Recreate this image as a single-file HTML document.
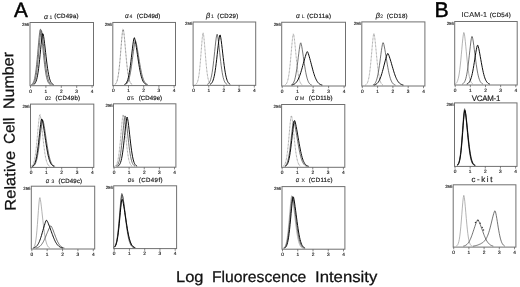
<!DOCTYPE html>
<html><head><meta charset="utf-8"><style>
html,body{margin:0;padding:0;background:#fff;width:520px;height:287px;overflow:hidden}
svg{display:block;will-change:transform}
text{font-family:"Liberation Sans",sans-serif;fill:#222;text-rendering:geometricPrecision}
.tk{font-size:4.8px;fill:#222;stroke:#222;stroke-width:0.15px}
.tk2{font-size:4.4px;fill:#222;stroke:#222;stroke-width:0.15px}
.tt{font-size:6.1px;fill:#222;stroke:#222;stroke-width:0.2px}
.tt2{font-size:7.2px;fill:#222;stroke:#222;stroke-width:0.12px}
.vc{font-size:7.9px;stroke:#222;stroke-width:0.18px}
.gr{font-family:"Liberation Sans",sans-serif;font-style:italic;font-size:6.8px;fill:#222;stroke:#222;stroke-width:0.15px}
.grb{font-size:7.4px}
.sb{font-size:5px;fill:#222;stroke:#222;stroke-width:0.08px}
.big{font-size:20.7px;fill:#000;stroke:#000;stroke-width:0.45px}
.ax{font-size:15.5px;fill:#111;stroke:#111;stroke-width:0.25px}
</style></head><body>
<svg width="520" height="287" viewBox="0 0 520 287">
<text x="13.9" y="17.0" class="big">A</text>
<text x="434.4" y="17.2" class="big" style="font-size:21.3px">B</text>
<g transform="translate(15.75,211.6) rotate(-90.9)">
<text x="0.9" y="0" class="ax" textLength="59.8" lengthAdjust="spacingAndGlyphs">Relative</text>
<text x="67.9" y="0" class="ax" textLength="26" lengthAdjust="spacingAndGlyphs">Cell</text>
<text x="102.6" y="0" class="ax" textLength="57" lengthAdjust="spacingAndGlyphs">Number</text>
</g>
<text x="176" y="281.9" class="ax" textLength="27.5" lengthAdjust="spacingAndGlyphs">Log</text>
<text x="212" y="281.9" class="ax" textLength="94.3" lengthAdjust="spacingAndGlyphs">Fluorescence</text>
<text x="315" y="281.9" class="ax" textLength="62.3" lengthAdjust="spacingAndGlyphs">Intensity</text>
<rect x="30.0" y="22.5" width="63.50" height="63.20" fill="none" stroke="#707070" stroke-width="1"/>
<line x1="30.50" y1="85.7" x2="30.50" y2="87.90" stroke="#555" stroke-width="0.7"/>
<text x="30.50" y="92.50" class="tk" text-anchor="middle">0</text>
<line x1="45.90" y1="85.7" x2="45.90" y2="87.90" stroke="#555" stroke-width="0.7"/>
<text x="45.90" y="92.50" class="tk" text-anchor="middle">1</text>
<line x1="61.30" y1="85.7" x2="61.30" y2="87.90" stroke="#555" stroke-width="0.7"/>
<text x="61.30" y="92.50" class="tk" text-anchor="middle">2</text>
<line x1="76.70" y1="85.7" x2="76.70" y2="87.90" stroke="#555" stroke-width="0.7"/>
<text x="76.70" y="92.50" class="tk" text-anchor="middle">3</text>
<line x1="92.10" y1="85.7" x2="92.10" y2="87.90" stroke="#555" stroke-width="0.7"/>
<text x="92.10" y="92.50" class="tk" text-anchor="middle">4</text>
<text x="29.20" y="25.90" class="tk2" text-anchor="end" textLength="7.2" lengthAdjust="spacingAndGlyphs">256</text>
<path d="M31.1,84.7 31.6,84.5 32.1,84.1 32.6,83.6 33.1,82.9 33.6,81.8 34.1,80.4 34.6,78.5 35.1,76.0 35.6,72.9 36.1,69.2 36.6,64.8 37.1,59.8 37.6,54.4 38.1,48.6 38.6,42.9 39.1,37.5 39.6,32.9 40.1,29.6 40.6,29.2 41.1,31.7 41.6,35.6 42.1,40.2 42.6,45.2 43.1,50.3 43.6,55.4 44.1,60.2 44.6,64.7 45.1,68.6 45.6,72.1 46.1,75.1 46.6,77.5 47.1,79.4 47.6,81.0 48.1,82.1 48.6,83.0 49.1,83.7 49.6,84.1 50.1,84.5 50.6,84.7" fill="none" stroke="#444" stroke-width="0.75" stroke-linejoin="round"/>
<path d="M32.1,84.7 32.6,84.5 33.1,84.1 33.6,83.5 34.1,82.7 34.6,81.7 35.1,80.2 35.6,78.2 36.1,75.7 36.6,72.5 37.1,68.7 37.6,64.3 38.1,59.3 38.6,53.9 39.1,48.3 39.6,42.7 40.1,37.6 40.6,33.3 41.1,30.5 41.6,30.8 42.1,33.5 42.6,37.2 43.1,41.7 43.6,46.4 44.1,51.2 44.6,56.0 45.1,60.6 45.6,64.8 46.1,68.6 46.6,72.0 47.1,74.8 47.6,77.2 48.1,79.1 48.6,80.7 49.1,81.9 49.6,82.8 50.1,83.5 50.6,84.0 51.1,84.3 51.6,84.6" fill="none" stroke="#444" stroke-width="0.75" stroke-linejoin="round"/>
<path d="M33.6,84.6 34.1,84.3 34.6,83.9 35.1,83.2 35.6,82.4 36.1,81.2 36.6,79.7 37.1,77.7 37.6,75.2 38.1,72.1 38.6,68.5 39.1,64.3 39.6,59.7 40.1,54.8 40.6,49.7 41.1,44.6 41.6,40.0 42.1,36.1 42.6,33.6 43.1,33.9 43.6,36.3 44.1,39.7 44.6,43.7 45.1,48.0 45.6,52.4 46.1,56.8 46.6,61.0 47.1,65.0 47.6,68.5 48.1,71.7 48.6,74.5 49.1,76.8 49.6,78.8 50.1,80.3 50.6,81.6 51.1,82.5 51.6,83.2 52.1,83.8 52.6,84.2 53.1,84.5 53.6,84.7" fill="none" stroke="#000" stroke-width="0.95" stroke-linejoin="round"/>
<rect x="112.8" y="22.45" width="62.70" height="63.15" fill="none" stroke="#707070" stroke-width="1"/>
<line x1="113.30" y1="85.6" x2="113.30" y2="87.80" stroke="#555" stroke-width="0.7"/>
<text x="113.30" y="92.40" class="tk" text-anchor="middle">0</text>
<line x1="128.50" y1="85.6" x2="128.50" y2="87.80" stroke="#555" stroke-width="0.7"/>
<text x="128.50" y="92.40" class="tk" text-anchor="middle">1</text>
<line x1="143.70" y1="85.6" x2="143.70" y2="87.80" stroke="#555" stroke-width="0.7"/>
<text x="143.70" y="92.40" class="tk" text-anchor="middle">2</text>
<line x1="158.90" y1="85.6" x2="158.90" y2="87.80" stroke="#555" stroke-width="0.7"/>
<text x="158.90" y="92.40" class="tk" text-anchor="middle">3</text>
<line x1="174.10" y1="85.6" x2="174.10" y2="87.80" stroke="#555" stroke-width="0.7"/>
<text x="174.10" y="92.40" class="tk" text-anchor="middle">4</text>
<text x="112.00" y="25.85" class="tk2" text-anchor="end" textLength="7.2" lengthAdjust="spacingAndGlyphs">256</text>
<path d="M114.9,84.4 115.4,84.1 115.9,83.5 116.4,82.7 116.9,81.5 117.4,79.8 117.9,77.5 118.4,74.6 118.9,70.9 119.4,66.5 119.9,61.3 120.4,55.5 120.9,49.3 121.4,43.0 121.9,37.2 122.4,32.3 122.9,29.2 123.4,29.6 123.9,32.8 124.4,37.4 124.9,42.8 125.4,48.6 125.9,54.3 126.4,59.7 126.9,64.7 127.4,69.1 127.9,72.8 128.4,75.9 128.9,78.4 129.4,80.3 129.9,81.7 130.4,82.8 130.9,83.5 131.4,84.0 131.9,84.4 132.4,84.6" fill="none" stroke="#444" stroke-width="0.75" stroke-dasharray="0.8 0.6" stroke-linejoin="round"/>
<path d="M125.4,84.5 125.9,84.2 126.4,83.9 126.9,83.4 127.4,82.7 127.9,81.9 128.4,80.7 128.9,79.3 129.4,77.5 129.9,75.4 130.4,72.9 130.9,70.0 131.4,66.7 131.9,63.1 132.4,59.3 132.9,55.4 133.4,51.6 133.9,47.9 134.4,44.6 134.9,42.1 135.4,40.8 135.9,41.8 136.4,43.9 136.9,46.4 137.4,49.2 137.9,52.2 138.4,55.3 138.9,58.4 139.4,61.5 139.9,64.4 140.4,67.3 140.9,69.9 141.4,72.3 141.9,74.5 142.4,76.4 142.9,78.0 143.4,79.4 143.9,80.6 144.4,81.5 144.9,82.3 145.4,83.0 145.9,83.5 146.4,83.9 146.9,84.2 147.4,84.4 147.9,84.6" fill="none" stroke="#444" stroke-width="0.75" stroke-linejoin="round"/>
<path d="M124.4,84.5 124.9,84.3 125.4,84.0 125.9,83.5 126.4,82.8 126.9,81.9 127.4,80.8 127.9,79.3 128.4,77.4 128.9,75.1 129.4,72.4 129.9,69.2 130.4,65.6 130.9,61.6 131.4,57.4 131.9,53.1 132.4,48.8 132.9,44.8 133.4,41.2 133.9,38.6 134.4,37.7 134.9,39.2 135.4,41.5 135.9,44.4 136.4,47.6 136.9,50.9 137.4,54.4 137.9,57.8 138.4,61.1 138.9,64.3 139.4,67.4 139.9,70.1 140.4,72.6 140.9,74.9 141.4,76.8 141.9,78.4 142.4,79.8 142.9,81.0 143.4,81.9 143.9,82.6 144.4,83.2 144.9,83.7 145.4,84.0 145.9,84.3 146.4,84.5" fill="none" stroke="#000" stroke-width="0.95" stroke-linejoin="round"/>
<rect x="193.1" y="22.0" width="62.60" height="63.35" fill="none" stroke="#707070" stroke-width="1"/>
<line x1="193.60" y1="85.35" x2="193.60" y2="87.55" stroke="#555" stroke-width="0.7"/>
<text x="193.60" y="92.15" class="tk" text-anchor="middle">0</text>
<line x1="208.77" y1="85.35" x2="208.77" y2="87.55" stroke="#555" stroke-width="0.7"/>
<text x="208.77" y="92.15" class="tk" text-anchor="middle">1</text>
<line x1="223.95" y1="85.35" x2="223.95" y2="87.55" stroke="#555" stroke-width="0.7"/>
<text x="223.95" y="92.15" class="tk" text-anchor="middle">2</text>
<line x1="239.12" y1="85.35" x2="239.12" y2="87.55" stroke="#555" stroke-width="0.7"/>
<text x="239.12" y="92.15" class="tk" text-anchor="middle">3</text>
<line x1="254.30" y1="85.35" x2="254.30" y2="87.55" stroke="#555" stroke-width="0.7"/>
<text x="254.30" y="92.15" class="tk" text-anchor="middle">4</text>
<text x="192.30" y="25.40" class="tk2" text-anchor="end" textLength="7.2" lengthAdjust="spacingAndGlyphs">256</text>
<path d="M195.7,84.3 196.2,84.0 196.7,83.4 197.2,82.6 197.7,81.3 198.2,79.4 198.7,76.8 199.2,73.4 199.7,69.0 200.2,63.6 200.7,57.5 201.2,51.0 201.7,44.5 202.2,38.6 202.7,34.3 203.2,32.9 203.7,35.6 204.2,40.4 204.7,46.2 205.2,52.5 205.7,58.7 206.2,64.4 206.7,69.4 207.2,73.6 207.7,76.8 208.2,79.3 208.7,81.2 209.2,82.5 209.7,83.3 210.2,83.9 210.7,84.3" fill="none" stroke="#777" stroke-width="0.75" stroke-dasharray="0.8 0.6" stroke-linejoin="round"/>
<path d="M207.2,84.4 207.7,84.2 208.2,83.9 208.7,83.4 209.2,82.8 209.7,82.0 210.2,80.9 210.7,79.4 211.2,77.5 211.7,75.1 212.2,72.3 212.7,68.9 213.2,65.0 213.7,60.7 214.2,56.1 214.7,51.3 215.2,46.6 215.7,42.0 216.2,38.1 216.7,35.1 217.2,34.2 217.7,36.1 218.2,39.4 218.7,43.4 219.2,47.9 219.7,52.5 220.2,57.1 220.7,61.5 221.2,65.6 221.7,69.2 222.2,72.5 222.7,75.2 223.2,77.5 223.7,79.3 224.2,80.8 224.7,81.9 225.2,82.7 225.7,83.4 226.2,83.8 226.7,84.1 227.2,84.3" fill="none" stroke="#444" stroke-width="0.75" stroke-linejoin="round"/>
<path d="M210.2,84.2 210.7,84.0 211.2,83.6 211.7,83.0 212.2,82.3 212.7,81.3 213.2,80.0 213.7,78.3 214.2,76.3 214.7,73.8 215.2,70.8 215.7,67.3 216.2,63.4 216.7,59.2 217.2,54.7 217.7,50.1 218.2,45.6 218.7,41.4 219.2,37.9 219.7,35.3 220.2,35.0 220.7,37.2 221.2,40.4 221.7,44.4 222.2,48.6 222.7,53.1 223.2,57.4 223.7,61.6 224.2,65.5 224.7,69.1 225.2,72.2 225.7,74.9 226.2,77.2 226.7,79.0 227.2,80.5 227.7,81.6 228.2,82.5 228.7,83.2 229.2,83.7 229.7,84.0 230.2,84.3" fill="none" stroke="#000" stroke-width="0.95" stroke-linejoin="round"/>
<rect x="281.7" y="22.25" width="63.80" height="63.75" fill="none" stroke="#707070" stroke-width="1"/>
<line x1="282.20" y1="86.0" x2="282.20" y2="88.20" stroke="#555" stroke-width="0.7"/>
<text x="282.20" y="92.80" class="tk" text-anchor="middle">0</text>
<line x1="297.68" y1="86.0" x2="297.68" y2="88.20" stroke="#555" stroke-width="0.7"/>
<text x="297.68" y="92.80" class="tk" text-anchor="middle">1</text>
<line x1="313.15" y1="86.0" x2="313.15" y2="88.20" stroke="#555" stroke-width="0.7"/>
<text x="313.15" y="92.80" class="tk" text-anchor="middle">2</text>
<line x1="328.62" y1="86.0" x2="328.62" y2="88.20" stroke="#555" stroke-width="0.7"/>
<text x="328.62" y="92.80" class="tk" text-anchor="middle">3</text>
<line x1="344.10" y1="86.0" x2="344.10" y2="88.20" stroke="#555" stroke-width="0.7"/>
<text x="344.10" y="92.80" class="tk" text-anchor="middle">4</text>
<text x="280.90" y="25.65" class="tk2" text-anchor="end" textLength="7.2" lengthAdjust="spacingAndGlyphs">256</text>
<path d="M285.3,84.8 285.8,84.4 286.3,83.9 286.8,83.1 287.3,81.9 287.8,80.3 288.3,78.1 288.8,75.2 289.3,71.7 289.8,67.5 290.3,62.6 290.8,57.1 291.3,51.4 291.8,45.7 292.3,40.5 292.8,36.3 293.3,33.9 293.8,34.9 294.3,38.2 294.8,42.6 295.3,47.7 295.8,53.0 296.3,58.2 296.8,63.1 297.3,67.6 297.8,71.5 298.3,74.8 298.8,77.6 299.3,79.7 299.8,81.4 300.3,82.6 300.8,83.5 301.3,84.2 301.8,84.6 302.3,84.9" fill="none" stroke="#777" stroke-width="0.75" stroke-dasharray="0.8 0.6" stroke-linejoin="round"/>
<path d="M291.3,84.9 291.8,84.7 292.3,84.3 292.8,83.8 293.3,83.1 293.8,82.1 294.3,80.9 294.8,79.3 295.3,77.3 295.8,74.9 296.3,72.0 296.8,68.8 297.3,65.2 297.8,61.3 298.3,57.2 298.8,53.2 299.3,49.4 299.8,46.1 300.3,43.6 300.8,42.8 301.3,44.2 301.8,46.7 302.3,49.7 302.8,53.0 303.3,56.5 303.8,60.0 304.3,63.4 304.8,66.7 305.3,69.8 305.8,72.6 306.3,75.0 306.8,77.1 307.3,78.9 307.8,80.4 308.3,81.6 308.8,82.6 309.3,83.3 309.8,83.9 310.3,84.3 310.8,84.7 311.3,84.9 311.8,85.0" fill="none" stroke="#444" stroke-width="0.75" stroke-linejoin="round"/>
<path d="M291.8,85.0 292.3,84.9 292.8,84.7 293.3,84.6 293.8,84.3 294.3,84.1 294.8,83.8 295.3,83.4 295.8,82.9 296.3,82.3 296.8,81.7 297.3,81.0 297.8,80.1 298.3,79.1 298.8,78.0 299.3,76.8 299.8,75.5 300.3,74.0 300.8,72.5 301.3,70.8 301.8,69.1 302.3,67.3 302.8,65.4 303.3,63.6 303.8,61.8 304.3,60.0 304.8,58.3 305.3,56.6 305.8,55.0 306.3,53.5 306.8,52.3 307.3,51.6 307.8,52.3 308.3,53.6 308.8,55.1 309.3,56.8 309.8,58.6 310.3,60.4 310.8,62.3 311.3,64.2 311.8,66.1 312.3,68.0 312.8,69.9 313.3,71.7 313.8,73.4 314.3,74.9 314.8,76.4 315.3,77.7 315.8,78.8 316.3,79.9 316.8,80.8 317.3,81.6 317.8,82.3 318.3,82.9 318.8,83.4 319.3,83.8 319.8,84.1 320.3,84.4 320.8,84.6 321.3,84.8 321.8,84.9 322.3,85.0" fill="none" stroke="#000" stroke-width="0.95" stroke-linejoin="round"/>
<rect x="361.8" y="21.9" width="63.10" height="64.10" fill="none" stroke="#707070" stroke-width="1"/>
<line x1="362.30" y1="86.0" x2="362.30" y2="88.20" stroke="#555" stroke-width="0.7"/>
<text x="362.30" y="92.80" class="tk" text-anchor="middle">0</text>
<line x1="377.60" y1="86.0" x2="377.60" y2="88.20" stroke="#555" stroke-width="0.7"/>
<text x="377.60" y="92.80" class="tk" text-anchor="middle">1</text>
<line x1="392.90" y1="86.0" x2="392.90" y2="88.20" stroke="#555" stroke-width="0.7"/>
<text x="392.90" y="92.80" class="tk" text-anchor="middle">2</text>
<line x1="408.20" y1="86.0" x2="408.20" y2="88.20" stroke="#555" stroke-width="0.7"/>
<text x="408.20" y="92.80" class="tk" text-anchor="middle">3</text>
<line x1="423.50" y1="86.0" x2="423.50" y2="88.20" stroke="#555" stroke-width="0.7"/>
<text x="423.50" y="92.80" class="tk" text-anchor="middle">4</text>
<text x="361.00" y="25.30" class="tk2" text-anchor="end" textLength="7.2" lengthAdjust="spacingAndGlyphs">256</text>
<path d="M365.4,85.0 365.9,84.8 366.4,84.3 366.9,83.7 367.4,82.8 367.9,81.6 368.4,79.8 368.9,77.5 369.4,74.5 369.9,70.8 370.4,66.4 370.9,61.4 371.4,55.9 371.9,50.1 372.4,44.4 372.9,39.3 373.4,35.4 373.9,33.5 374.4,35.2 374.9,38.8 375.4,43.4 375.9,48.5 376.4,53.9 376.9,59.1 377.4,64.0 377.9,68.3 378.4,72.2 378.9,75.4 379.4,78.0 379.9,80.1 380.4,81.6 380.9,82.8 381.4,83.7 381.9,84.3 382.4,84.7 382.9,84.9" fill="none" stroke="#777" stroke-width="0.75" stroke-dasharray="0.8 0.6" stroke-linejoin="round"/>
<path d="M372.9,85.0 373.4,84.8 373.9,84.5 374.4,84.0 374.9,83.5 375.4,82.7 375.9,81.7 376.4,80.5 376.9,78.9 377.4,76.9 377.9,74.6 378.4,72.0 378.9,68.9 379.4,65.6 379.9,62.0 380.4,58.2 380.9,54.4 381.4,50.7 381.9,47.4 382.4,44.6 382.9,42.7 383.4,42.9 383.9,44.6 384.4,47.0 384.9,49.7 385.4,52.7 385.9,55.8 386.4,58.9 386.9,61.9 387.4,64.9 387.9,67.8 388.4,70.4 388.9,72.9 389.4,75.0 389.9,76.9 390.4,78.6 390.9,80.0 391.4,81.1 391.9,82.1 392.4,82.9 392.9,83.5 393.4,84.0 393.9,84.3 394.4,84.6 394.9,84.8 395.4,85.0" fill="none" stroke="#444" stroke-width="0.75" stroke-linejoin="round"/>
<path d="M373.9,85.0 374.4,84.9 374.9,84.8 375.4,84.6 375.9,84.3 376.4,84.0 376.9,83.6 377.4,83.1 377.9,82.6 378.4,81.9 378.9,81.1 379.4,80.2 379.9,79.1 380.4,77.9 380.9,76.5 381.4,75.0 381.9,73.4 382.4,71.6 382.9,69.8 383.4,67.9 383.9,65.9 384.4,64.0 384.9,62.0 385.4,60.1 385.9,58.3 386.4,56.6 386.9,55.0 387.4,53.8 387.9,53.4 388.4,54.2 388.9,55.4 389.4,56.9 389.9,58.4 390.4,60.0 390.9,61.6 391.4,63.3 391.9,65.1 392.4,66.8 392.9,68.5 393.4,70.2 393.9,71.9 394.4,73.4 394.9,74.9 395.4,76.2 395.9,77.5 396.4,78.6 396.9,79.6 397.4,80.5 397.9,81.3 398.4,82.0 398.9,82.6 399.4,83.1 399.9,83.5 400.4,83.9 400.9,84.2 401.4,84.4 401.9,84.6 402.4,84.8 402.9,84.9 403.4,85.0" fill="none" stroke="#000" stroke-width="0.95" stroke-linejoin="round"/>
<rect x="454.7" y="21.5" width="62.50" height="63.50" fill="none" stroke="#707070" stroke-width="1"/>
<line x1="455.20" y1="85.0" x2="455.20" y2="87.20" stroke="#555" stroke-width="0.7"/>
<text x="455.20" y="91.80" class="tk" text-anchor="middle">0</text>
<line x1="470.35" y1="85.0" x2="470.35" y2="87.20" stroke="#555" stroke-width="0.7"/>
<text x="470.35" y="91.80" class="tk" text-anchor="middle">1</text>
<line x1="485.50" y1="85.0" x2="485.50" y2="87.20" stroke="#555" stroke-width="0.7"/>
<text x="485.50" y="91.80" class="tk" text-anchor="middle">2</text>
<line x1="500.65" y1="85.0" x2="500.65" y2="87.20" stroke="#555" stroke-width="0.7"/>
<text x="500.65" y="91.80" class="tk" text-anchor="middle">3</text>
<line x1="515.80" y1="85.0" x2="515.80" y2="87.20" stroke="#555" stroke-width="0.7"/>
<text x="515.80" y="91.80" class="tk" text-anchor="middle">4</text>
<text x="453.90" y="24.90" class="tk2" text-anchor="end" textLength="7.2" lengthAdjust="spacingAndGlyphs">256</text>
<path d="M455.3,83.9 455.8,83.6 456.3,83.1 456.8,82.5 457.3,81.5 457.8,80.1 458.3,78.3 458.8,76.0 459.3,73.0 459.8,69.3 460.3,65.0 460.8,60.2 461.3,54.8 461.8,49.3 462.3,43.8 462.8,38.8 463.3,34.8 463.8,32.5 464.3,33.5 464.8,36.8 465.3,41.3 465.8,46.4 466.3,51.7 466.8,57.0 467.3,61.9 467.8,66.5 468.3,70.4 468.8,73.8 469.3,76.5 469.8,78.7 470.3,80.3 470.8,81.6 471.3,82.5 471.8,83.1 472.3,83.6 472.8,83.9" fill="none" stroke="#999" stroke-width="0.75" stroke-linejoin="round"/>
<path d="M462.3,84.0 462.8,83.8 463.3,83.4 463.8,82.9 464.3,82.3 464.8,81.4 465.3,80.2 465.8,78.6 466.3,76.6 466.8,74.2 467.3,71.3 467.8,67.9 468.3,64.0 468.8,59.8 469.3,55.3 469.8,50.8 470.3,46.3 470.8,42.1 471.3,38.7 471.8,36.5 472.3,36.7 472.8,38.9 473.3,42.0 473.8,45.5 474.3,49.4 474.8,53.3 475.3,57.3 475.8,61.1 476.3,64.7 476.8,68.0 477.3,71.0 477.8,73.7 478.3,75.9 478.8,77.8 479.3,79.3 479.8,80.6 480.3,81.6 480.8,82.3 481.3,82.9 481.8,83.4 482.3,83.7 482.8,83.9" fill="none" stroke="#444" stroke-width="0.75" stroke-linejoin="round"/>
<path d="M466.8,84.0 467.3,83.8 467.8,83.5 468.3,83.2 468.8,82.7 469.3,82.1 469.8,81.3 470.3,80.3 470.8,79.0 471.3,77.5 471.8,75.6 472.3,73.5 472.8,71.1 473.3,68.3 473.8,65.4 474.3,62.3 474.8,59.1 475.3,55.8 475.8,52.7 476.3,49.8 476.8,47.3 477.3,45.5 477.8,45.2 478.3,46.7 478.8,48.7 479.3,51.2 479.8,53.9 480.3,56.7 480.8,59.5 481.3,62.3 481.8,65.1 482.3,67.7 482.8,70.2 483.3,72.5 483.8,74.5 484.3,76.3 484.8,77.9 485.3,79.2 485.8,80.3 486.3,81.2 486.8,82.0 487.3,82.5 487.8,83.0 488.3,83.4 488.8,83.7 489.3,83.9 489.8,84.0" fill="none" stroke="#000" stroke-width="0.95" stroke-linejoin="round"/>
<rect x="30.5" y="104.1" width="63.30" height="63.30" fill="none" stroke="#707070" stroke-width="1"/>
<line x1="31.00" y1="167.4" x2="31.00" y2="169.60" stroke="#555" stroke-width="0.7"/>
<text x="31.00" y="174.20" class="tk" text-anchor="middle">0</text>
<line x1="46.35" y1="167.4" x2="46.35" y2="169.60" stroke="#555" stroke-width="0.7"/>
<text x="46.35" y="174.20" class="tk" text-anchor="middle">1</text>
<line x1="61.70" y1="167.4" x2="61.70" y2="169.60" stroke="#555" stroke-width="0.7"/>
<text x="61.70" y="174.20" class="tk" text-anchor="middle">2</text>
<line x1="77.05" y1="167.4" x2="77.05" y2="169.60" stroke="#555" stroke-width="0.7"/>
<text x="77.05" y="174.20" class="tk" text-anchor="middle">3</text>
<line x1="92.40" y1="167.4" x2="92.40" y2="169.60" stroke="#555" stroke-width="0.7"/>
<text x="92.40" y="174.20" class="tk" text-anchor="middle">4</text>
<text x="29.70" y="107.50" class="tk2" text-anchor="end" textLength="7.2" lengthAdjust="spacingAndGlyphs">256</text>
<path d="M31.1,166.4 31.6,166.1 32.1,165.7 32.6,165.1 33.1,164.3 33.6,163.1 34.1,161.5 34.6,159.3 35.1,156.6 35.6,153.2 36.1,149.1 36.6,144.4 37.1,139.2 37.6,133.6 38.1,128.0 38.6,122.7 39.1,118.2 39.6,115.0 40.1,114.6 40.6,116.9 41.1,120.5 41.6,124.8 42.1,129.5 42.6,134.3 43.1,139.0 43.6,143.5 44.1,147.7 44.6,151.4 45.1,154.7 45.6,157.4 46.1,159.7 46.6,161.5 47.1,162.9 47.6,164.0 48.1,164.9 48.6,165.5 49.1,165.9 49.6,166.2 50.1,166.4" fill="none" stroke="#777" stroke-width="0.75" stroke-dasharray="0.8 0.6" stroke-linejoin="round"/>
<path d="M32.6,166.4 33.1,166.2 33.6,165.9 34.1,165.5 34.6,164.9 35.1,164.2 35.6,163.1 36.1,161.8 36.6,160.1 37.1,158.0 37.6,155.4 38.1,152.5 38.6,149.1 39.1,145.3 39.6,141.2 40.1,137.0 40.6,132.7 41.1,128.6 41.6,124.8 42.1,121.8 42.6,120.1 43.1,120.8 43.6,122.8 44.1,125.5 44.6,128.5 45.1,131.8 45.6,135.1 46.1,138.5 46.6,141.9 47.1,145.1 47.6,148.2 48.1,151.0 48.6,153.6 49.1,155.9 49.6,158.0 50.1,159.7 50.6,161.2 51.1,162.4 51.6,163.4 52.1,164.2 52.6,164.8 53.1,165.3 53.6,165.7 54.1,166.0 54.6,166.2 55.1,166.4" fill="none" stroke="#444" stroke-width="0.75" stroke-linejoin="round"/>
<path d="M32.1,166.4 32.6,166.2 33.1,165.8 33.6,165.4 34.1,164.7 34.6,163.8 35.1,162.6 35.6,161.0 36.1,159.1 36.6,156.6 37.1,153.7 37.6,150.3 38.1,146.5 38.6,142.3 39.1,137.8 39.6,133.3 40.1,128.8 40.6,124.7 41.1,121.2 41.6,119.0 42.1,119.2 42.6,121.1 43.1,123.8 43.6,126.9 44.1,130.2 44.6,133.6 45.1,137.1 45.6,140.5 46.1,143.9 46.6,147.1 47.1,150.0 47.6,152.8 48.1,155.2 48.6,157.3 49.1,159.2 49.6,160.7 50.1,162.0 50.6,163.1 51.1,164.0 51.6,164.7 52.1,165.2 52.6,165.6 53.1,165.9 53.6,166.2 54.1,166.4" fill="none" stroke="#000" stroke-width="0.95" stroke-linejoin="round"/>
<rect x="113.5" y="103.8" width="62.40" height="63.40" fill="none" stroke="#707070" stroke-width="1"/>
<line x1="114.00" y1="167.2" x2="114.00" y2="169.40" stroke="#555" stroke-width="0.7"/>
<text x="114.00" y="174.00" class="tk" text-anchor="middle">0</text>
<line x1="129.12" y1="167.2" x2="129.12" y2="169.40" stroke="#555" stroke-width="0.7"/>
<text x="129.12" y="174.00" class="tk" text-anchor="middle">1</text>
<line x1="144.25" y1="167.2" x2="144.25" y2="169.40" stroke="#555" stroke-width="0.7"/>
<text x="144.25" y="174.00" class="tk" text-anchor="middle">2</text>
<line x1="159.38" y1="167.2" x2="159.38" y2="169.40" stroke="#555" stroke-width="0.7"/>
<text x="159.38" y="174.00" class="tk" text-anchor="middle">3</text>
<line x1="174.50" y1="167.2" x2="174.50" y2="169.40" stroke="#555" stroke-width="0.7"/>
<text x="174.50" y="174.00" class="tk" text-anchor="middle">4</text>
<text x="112.70" y="107.20" class="tk2" text-anchor="end" textLength="7.2" lengthAdjust="spacingAndGlyphs">256</text>
<path d="M114.6,166.2 115.1,166.0 115.6,165.6 116.1,165.1 116.6,164.2 117.1,163.1 117.6,161.4 118.1,159.2 118.6,156.4 119.1,152.8 119.6,148.5 120.1,143.6 120.6,138.2 121.1,132.4 121.6,126.7 122.1,121.4 122.6,117.2 123.1,114.7 123.6,115.8 124.1,119.1 124.6,123.5 125.1,128.6 125.6,134.0 126.1,139.2 126.6,144.2 127.1,148.7 127.6,152.6 128.1,156.0 128.6,158.7 129.1,160.9 129.6,162.5 130.1,163.8 130.6,164.7 131.1,165.3 131.6,165.8 132.1,166.1" fill="none" stroke="#777" stroke-width="0.75" stroke-dasharray="0.8 0.6" stroke-linejoin="round"/>
<path d="M116.1,166.1 116.6,165.9 117.1,165.5 117.6,164.9 118.1,164.1 118.6,162.9 119.1,161.4 119.6,159.4 120.1,156.8 120.6,153.7 121.1,149.9 121.6,145.6 122.1,140.9 122.6,135.8 123.1,130.6 123.6,125.6 124.1,121.0 124.6,117.6 125.1,115.9 125.6,117.4 126.1,120.4 126.6,124.4 127.1,128.8 127.6,133.4 128.1,138.0 128.6,142.4 129.1,146.6 129.6,150.4 130.1,153.7 130.6,156.5 131.1,158.9 131.6,160.8 132.1,162.4 132.6,163.5 133.1,164.4 133.6,165.1 134.1,165.6 134.6,165.9 135.1,166.1" fill="none" stroke="#444" stroke-width="0.75" stroke-linejoin="round"/>
<path d="M117.6,166.2 118.1,166.0 118.6,165.7 119.1,165.2 119.6,164.5 120.1,163.6 120.6,162.4 121.1,160.7 121.6,158.6 122.1,156.0 122.6,152.9 123.1,149.2 123.6,145.1 124.1,140.5 124.6,135.7 125.1,130.8 125.6,126.2 126.1,122.0 126.6,118.7 127.1,117.1 127.6,118.6 128.1,121.6 128.6,125.4 129.1,129.7 129.6,134.2 130.1,138.7 130.6,143.1 131.1,147.1 131.6,150.8 132.1,154.0 132.6,156.8 133.1,159.1 133.6,161.0 134.1,162.5 134.6,163.6 135.1,164.5 135.6,165.1 136.1,165.6 136.6,165.9 137.1,166.2" fill="none" stroke="#000" stroke-width="0.95" stroke-linejoin="round"/>
<rect x="281.6" y="104.5" width="63.20" height="62.80" fill="none" stroke="#707070" stroke-width="1"/>
<line x1="282.10" y1="167.3" x2="282.10" y2="169.50" stroke="#555" stroke-width="0.7"/>
<text x="282.10" y="174.10" class="tk" text-anchor="middle">0</text>
<line x1="297.43" y1="167.3" x2="297.43" y2="169.50" stroke="#555" stroke-width="0.7"/>
<text x="297.43" y="174.10" class="tk" text-anchor="middle">1</text>
<line x1="312.75" y1="167.3" x2="312.75" y2="169.50" stroke="#555" stroke-width="0.7"/>
<text x="312.75" y="174.10" class="tk" text-anchor="middle">2</text>
<line x1="328.08" y1="167.3" x2="328.08" y2="169.50" stroke="#555" stroke-width="0.7"/>
<text x="328.08" y="174.10" class="tk" text-anchor="middle">3</text>
<line x1="343.40" y1="167.3" x2="343.40" y2="169.50" stroke="#555" stroke-width="0.7"/>
<text x="343.40" y="174.10" class="tk" text-anchor="middle">4</text>
<text x="280.80" y="107.90" class="tk2" text-anchor="end" textLength="7.2" lengthAdjust="spacingAndGlyphs">256</text>
<path d="M283.2,166.2 283.7,165.8 284.2,165.3 284.7,164.6 285.2,163.5 285.7,162.0 286.2,159.9 286.7,157.2 287.2,153.9 287.7,149.8 288.2,145.1 288.7,139.8 289.2,134.2 289.7,128.5 290.2,123.2 290.7,118.7 291.2,115.9 291.7,116.2 292.2,119.0 292.7,123.0 293.2,127.7 293.7,132.7 294.2,137.7 294.7,142.6 295.2,147.1 295.7,151.1 296.2,154.5 296.7,157.4 297.2,159.8 297.7,161.7 298.2,163.1 298.7,164.2 299.2,165.0 299.7,165.6 300.2,166.0 300.7,166.2" fill="none" stroke="#777" stroke-width="0.75" stroke-dasharray="0.8 0.6" stroke-linejoin="round"/>
<path d="M284.7,166.2 285.2,165.9 285.7,165.4 286.2,164.8 286.7,164.0 287.2,162.8 287.7,161.3 288.2,159.4 288.7,157.0 289.2,154.2 289.7,150.8 290.2,147.0 290.7,142.9 291.2,138.5 291.7,134.0 292.2,129.7 292.7,125.9 293.2,122.9 293.7,121.5 294.2,122.5 294.7,124.5 295.2,126.9 295.7,129.6 296.2,132.5 296.7,135.4 297.2,138.4 297.7,141.4 298.2,144.3 298.7,147.1 299.2,149.8 299.7,152.3 300.2,154.5 300.7,156.5 301.2,158.3 301.7,159.8 302.2,161.2 302.7,162.3 303.2,163.2 303.7,164.0 304.2,164.6 304.7,165.1 305.2,165.5 305.7,165.8 306.2,166.0 306.7,166.2 307.2,166.3" fill="none" stroke="#444" stroke-width="0.75" stroke-linejoin="round"/>
<path d="M285.2,166.3 285.7,166.0 286.2,165.7 286.7,165.2 287.2,164.4 287.7,163.5 288.2,162.2 288.7,160.4 289.2,158.3 289.7,155.7 290.2,152.5 290.7,148.9 291.2,144.8 291.7,140.4 292.2,135.8 292.7,131.3 293.2,127.0 293.7,123.4 294.2,120.9 294.7,120.5 295.2,121.9 295.7,124.1 296.2,126.5 296.7,129.2 297.2,132.0 297.7,134.9 298.2,137.8 298.7,140.7 299.2,143.6 299.7,146.3 300.2,149.0 300.7,151.4 301.2,153.6 301.7,155.7 302.2,157.5 302.7,159.1 303.2,160.5 303.7,161.6 304.2,162.6 304.7,163.5 305.2,164.2 305.7,164.7 306.2,165.2 306.7,165.5 307.2,165.8 307.7,166.0 308.2,166.2 308.7,166.3" fill="none" stroke="#000" stroke-width="0.95" stroke-linejoin="round"/>
<rect x="454.5" y="102.9" width="62.50" height="63.50" fill="none" stroke="#707070" stroke-width="1"/>
<line x1="455.00" y1="166.4" x2="455.00" y2="168.60" stroke="#555" stroke-width="0.7"/>
<text x="455.00" y="173.20" class="tk" text-anchor="middle">0</text>
<line x1="470.15" y1="166.4" x2="470.15" y2="168.60" stroke="#555" stroke-width="0.7"/>
<text x="470.15" y="173.20" class="tk" text-anchor="middle">1</text>
<line x1="485.30" y1="166.4" x2="485.30" y2="168.60" stroke="#555" stroke-width="0.7"/>
<text x="485.30" y="173.20" class="tk" text-anchor="middle">2</text>
<line x1="500.45" y1="166.4" x2="500.45" y2="168.60" stroke="#555" stroke-width="0.7"/>
<text x="500.45" y="173.20" class="tk" text-anchor="middle">3</text>
<line x1="515.60" y1="166.4" x2="515.60" y2="168.60" stroke="#555" stroke-width="0.7"/>
<text x="515.60" y="173.20" class="tk" text-anchor="middle">4</text>
<text x="453.70" y="106.30" class="tk2" text-anchor="end" textLength="7.2" lengthAdjust="spacingAndGlyphs">256</text>
<path d="M457.1,165.2 457.6,164.8 458.1,164.1 458.6,163.0 459.1,161.5 459.6,159.4 460.1,156.4 460.6,152.6 461.1,147.9 461.6,142.2 462.1,135.8 462.6,129.0 463.1,122.1 463.6,115.8 464.1,110.9 464.6,108.7 465.1,110.4 465.6,114.0 466.1,118.6 466.6,123.8 467.1,129.2 467.6,134.6 468.1,139.7 468.6,144.5 469.1,148.7 469.6,152.4 470.1,155.5 470.6,158.1 471.1,160.1 471.6,161.7 472.1,162.9 472.6,163.8 473.1,164.4 473.6,164.9 474.1,165.2 474.6,165.4" fill="none" stroke="#444" stroke-width="0.75" stroke-linejoin="round"/>
<path d="M457.1,165.4 457.6,165.1 458.1,164.5 458.6,163.8 459.1,162.6 459.6,160.9 460.1,158.5 460.6,155.3 461.1,151.2 461.6,146.2 462.1,140.3 462.6,133.8 463.1,127.0 463.6,120.5 464.1,114.8 464.6,110.9 465.1,110.3 465.6,112.7 466.1,116.3 466.6,120.7 467.1,125.5 467.6,130.4 468.1,135.3 468.6,140.0 469.1,144.4 469.6,148.3 470.1,151.8 470.6,154.8 471.1,157.3 471.6,159.4 472.1,161.0 472.6,162.3 473.1,163.3 473.6,164.0 474.1,164.6 474.6,165.0 475.1,165.2 475.6,165.4" fill="none" stroke="#444" stroke-width="0.75" stroke-linejoin="round"/>
<path d="M457.1,165.3 457.6,165.0 458.1,164.4 458.6,163.6 459.1,162.3 459.6,160.4 460.1,157.9 460.6,154.5 461.1,150.3 461.6,145.1 462.1,139.1 462.6,132.5 463.1,125.7 463.6,119.2 464.1,113.8 464.6,110.4 465.1,110.6 465.6,113.4 466.1,117.5 466.6,122.1 467.1,127.2 467.6,132.3 468.1,137.3 468.6,142.0 469.1,146.3 469.6,150.2 470.1,153.5 470.6,156.3 471.1,158.6 471.6,160.5 472.1,161.9 472.6,163.1 473.1,163.9 473.6,164.5 474.1,164.9 474.6,165.2 475.1,165.4" fill="none" stroke="#000" stroke-width="0.95" stroke-linejoin="round"/>
<rect x="31.3" y="186.2" width="63.40" height="62.80" fill="none" stroke="#707070" stroke-width="1"/>
<line x1="31.80" y1="249.0" x2="31.80" y2="251.20" stroke="#555" stroke-width="0.7"/>
<text x="31.80" y="255.80" class="tk" text-anchor="middle">0</text>
<line x1="47.17" y1="249.0" x2="47.17" y2="251.20" stroke="#555" stroke-width="0.7"/>
<text x="47.17" y="255.80" class="tk" text-anchor="middle">1</text>
<line x1="62.55" y1="249.0" x2="62.55" y2="251.20" stroke="#555" stroke-width="0.7"/>
<text x="62.55" y="255.80" class="tk" text-anchor="middle">2</text>
<line x1="77.92" y1="249.0" x2="77.92" y2="251.20" stroke="#555" stroke-width="0.7"/>
<text x="77.92" y="255.80" class="tk" text-anchor="middle">3</text>
<line x1="93.30" y1="249.0" x2="93.30" y2="251.20" stroke="#555" stroke-width="0.7"/>
<text x="93.30" y="255.80" class="tk" text-anchor="middle">4</text>
<text x="30.50" y="189.60" class="tk2" text-anchor="end" textLength="7.2" lengthAdjust="spacingAndGlyphs">256</text>
<path d="M33.4,247.8 33.9,247.2 34.4,246.4 34.9,245.0 35.4,242.9 35.9,239.9 36.4,235.9 36.9,230.7 37.4,224.5 37.9,217.6 38.4,210.5 38.9,204.0 39.4,199.2 39.9,197.6 40.4,199.6 40.9,202.8 41.4,206.9 41.9,211.4 42.4,216.0 42.9,220.6 43.4,225.0 43.9,229.1 44.4,232.8 44.9,236.1 45.4,238.8 45.9,241.1 46.4,242.9 46.9,244.4 47.4,245.5 47.9,246.4 48.4,247.0 48.9,247.4 49.4,247.8 49.9,248.0" fill="none" stroke="#999" stroke-width="0.75" stroke-linejoin="round"/>
<path d="M35.9,248.0 36.4,247.9 36.9,247.8 37.4,247.7 37.9,247.5 38.4,247.2 38.9,247.0 39.4,246.7 39.9,246.3 40.4,245.8 40.9,245.3 41.4,244.7 41.9,244.1 42.4,243.3 42.9,242.5 43.4,241.6 43.9,240.6 44.4,239.5 44.9,238.4 45.4,237.2 45.9,236.0 46.4,234.8 46.9,233.6 47.4,232.4 47.9,231.2 48.4,230.0 48.9,228.9 49.4,227.8 49.9,226.9 50.4,226.1 50.9,225.8 51.4,226.4 51.9,227.4 52.4,228.5 52.9,229.7 53.4,231.0 53.9,232.3 54.4,233.6 54.9,235.0 55.4,236.3 55.9,237.6 56.4,238.9 56.9,240.1 57.4,241.2 57.9,242.2 58.4,243.1 58.9,244.0 59.4,244.7 59.9,245.3 60.4,245.9 60.9,246.4 61.4,246.8 61.9,247.1 62.4,247.4 62.9,247.6 63.4,247.8 63.9,247.9 64.4,248.0" fill="none" stroke="#444" stroke-width="0.75" stroke-linejoin="round"/>
<path d="M33.4,248.0 33.9,247.8 34.4,247.6 34.9,247.4 35.4,247.1 35.9,246.8 36.4,246.3 36.9,245.8 37.4,245.2 37.9,244.4 38.4,243.6 38.9,242.6 39.4,241.5 39.9,240.2 40.4,238.8 40.9,237.3 41.4,235.7 41.9,234.0 42.4,232.2 42.9,230.5 43.4,228.7 43.9,227.0 44.4,225.3 44.9,223.7 45.4,222.2 45.9,221.0 46.4,220.2 46.9,220.5 47.4,221.4 47.9,222.5 48.4,223.7 48.9,225.0 49.4,226.3 49.9,227.6 50.4,229.0 50.9,230.4 51.4,231.8 51.9,233.2 52.4,234.6 52.9,235.9 53.4,237.2 53.9,238.4 54.4,239.6 54.9,240.7 55.4,241.7 55.9,242.6 56.4,243.4 56.9,244.1 57.4,244.8 57.9,245.3 58.4,245.8 58.9,246.3 59.4,246.6 59.9,246.9 60.4,247.2 60.9,247.4 61.4,247.6 61.9,247.8 62.4,247.9 62.9,248.0" fill="none" stroke="#000" stroke-width="0.95" stroke-linejoin="round"/>
<rect x="113.7" y="185.8" width="62.90" height="62.80" fill="none" stroke="#707070" stroke-width="1"/>
<line x1="114.20" y1="248.6" x2="114.20" y2="250.80" stroke="#555" stroke-width="0.7"/>
<text x="114.20" y="255.40" class="tk" text-anchor="middle">0</text>
<line x1="129.45" y1="248.6" x2="129.45" y2="250.80" stroke="#555" stroke-width="0.7"/>
<text x="129.45" y="255.40" class="tk" text-anchor="middle">1</text>
<line x1="144.70" y1="248.6" x2="144.70" y2="250.80" stroke="#555" stroke-width="0.7"/>
<text x="144.70" y="255.40" class="tk" text-anchor="middle">2</text>
<line x1="159.95" y1="248.6" x2="159.95" y2="250.80" stroke="#555" stroke-width="0.7"/>
<text x="159.95" y="255.40" class="tk" text-anchor="middle">3</text>
<line x1="175.20" y1="248.6" x2="175.20" y2="250.80" stroke="#555" stroke-width="0.7"/>
<text x="175.20" y="255.40" class="tk" text-anchor="middle">4</text>
<text x="112.90" y="189.20" class="tk2" text-anchor="end" textLength="7.2" lengthAdjust="spacingAndGlyphs">256</text>
<path d="M114.3,247.0 114.8,246.4 115.3,245.5 115.8,244.3 116.3,242.6 116.8,240.2 117.3,237.2 117.8,233.5 118.3,229.0 118.8,223.8 119.3,218.1 119.8,212.1 120.3,206.0 120.8,200.5 121.3,196.0 121.8,193.5 122.3,194.3 122.8,196.9 123.3,200.2 123.8,204.1 124.3,208.1 124.8,212.3 125.3,216.5 125.8,220.6 126.3,224.5 126.8,228.2 127.3,231.5 127.8,234.5 128.3,237.1 128.8,239.3 129.3,241.2 129.8,242.7 130.3,244.0 130.8,245.0 131.3,245.8 131.8,246.4 132.3,246.8 132.8,247.2 133.3,247.4 133.8,247.6" fill="none" stroke="#444" stroke-width="0.75" stroke-linejoin="round"/>
<path d="M114.3,247.2 114.8,246.7 115.3,246.0 115.8,244.9 116.3,243.4 116.8,241.4 117.3,238.7 117.8,235.4 118.3,231.3 118.8,226.5 119.3,221.1 119.8,215.3 120.3,209.3 120.8,203.7 121.3,198.8 121.8,195.4 122.3,194.9 122.8,196.8 123.3,199.6 123.8,203.0 124.3,206.6 124.8,210.4 125.3,214.2 125.8,218.1 126.3,221.8 126.8,225.4 127.3,228.8 127.8,231.8 128.3,234.6 128.8,237.0 129.3,239.1 129.8,240.9 130.3,242.4 130.8,243.7 131.3,244.7 131.8,245.5 132.3,246.1 132.8,246.6 133.3,247.0 133.8,247.3 134.3,247.5 134.8,247.6" fill="none" stroke="#444" stroke-width="0.75" stroke-linejoin="round"/>
<path d="M114.3,247.3 114.8,246.8 115.3,246.1 115.8,245.2 116.3,243.8 116.8,241.9 117.3,239.5 117.8,236.4 118.3,232.7 118.8,228.3 119.3,223.3 119.8,218.0 120.3,212.5 120.8,207.3 121.3,202.9 121.8,199.8 122.3,199.3 122.8,200.9 123.3,203.4 123.8,206.2 124.3,209.3 124.8,212.6 125.3,215.9 125.8,219.3 126.3,222.5 126.8,225.7 127.3,228.8 127.8,231.6 128.3,234.1 128.8,236.4 129.3,238.5 129.8,240.2 130.3,241.8 130.8,243.0 131.3,244.1 131.8,245.0 132.3,245.7 132.8,246.2 133.3,246.7 133.8,247.0 134.3,247.3 134.8,247.5 135.3,247.6" fill="none" stroke="#000" stroke-width="0.95" stroke-linejoin="round"/>
<rect x="282.0" y="186.6" width="62.90" height="62.60" fill="none" stroke="#707070" stroke-width="1"/>
<line x1="282.50" y1="249.2" x2="282.50" y2="251.40" stroke="#555" stroke-width="0.7"/>
<text x="282.50" y="256.00" class="tk" text-anchor="middle">0</text>
<line x1="297.75" y1="249.2" x2="297.75" y2="251.40" stroke="#555" stroke-width="0.7"/>
<text x="297.75" y="256.00" class="tk" text-anchor="middle">1</text>
<line x1="313.00" y1="249.2" x2="313.00" y2="251.40" stroke="#555" stroke-width="0.7"/>
<text x="313.00" y="256.00" class="tk" text-anchor="middle">2</text>
<line x1="328.25" y1="249.2" x2="328.25" y2="251.40" stroke="#555" stroke-width="0.7"/>
<text x="328.25" y="256.00" class="tk" text-anchor="middle">3</text>
<line x1="343.50" y1="249.2" x2="343.50" y2="251.40" stroke="#555" stroke-width="0.7"/>
<text x="343.50" y="256.00" class="tk" text-anchor="middle">4</text>
<text x="281.20" y="190.00" class="tk2" text-anchor="end" textLength="7.2" lengthAdjust="spacingAndGlyphs">256</text>
<path d="M283.6,248.1 284.1,247.7 284.6,247.2 285.1,246.4 285.6,245.3 286.1,243.7 286.6,241.5 287.1,238.8 287.6,235.3 288.1,231.0 288.6,226.1 289.1,220.6 289.6,214.8 290.1,208.9 290.6,203.3 291.1,198.7 291.6,195.8 292.1,196.0 292.6,198.4 293.1,201.8 293.6,205.7 294.1,210.0 294.6,214.3 295.1,218.7 295.6,222.9 296.1,226.9 296.6,230.6 297.1,233.9 297.6,236.8 298.1,239.2 298.6,241.3 299.1,243.0 299.6,244.4 300.1,245.5 300.6,246.3 301.1,247.0 301.6,247.4 302.1,247.8 302.6,248.0 303.1,248.2" fill="none" stroke="#999" stroke-width="0.75" stroke-linejoin="round"/>
<path d="M283.6,248.2 284.1,248.0 284.6,247.6 285.1,247.1 285.6,246.3 286.1,245.2 286.6,243.7 287.1,241.7 287.6,239.1 288.1,235.8 288.6,231.9 289.1,227.4 289.6,222.3 290.1,216.9 290.6,211.3 291.1,206.0 291.6,201.3 292.1,197.9 292.6,196.7 293.1,198.4 293.6,201.2 294.1,204.6 294.6,208.3 295.1,212.3 295.6,216.3 296.1,220.2 296.6,224.1 297.1,227.7 297.6,231.1 298.1,234.1 298.6,236.8 299.1,239.1 299.6,241.1 300.1,242.7 300.6,244.1 301.1,245.2 301.6,246.0 302.1,246.7 302.6,247.2 303.1,247.6 303.6,247.9 304.1,248.1" fill="none" stroke="#444" stroke-width="0.75" stroke-linejoin="round"/>
<path d="M284.6,248.1 285.1,247.8 285.6,247.3 286.1,246.7 286.6,245.7 287.1,244.4 287.6,242.5 288.1,240.2 288.6,237.2 289.1,233.6 289.6,229.3 290.1,224.4 290.6,219.1 291.1,213.6 291.6,208.1 292.1,203.1 292.6,199.1 293.1,196.8 293.6,197.5 294.1,199.9 294.6,203.0 295.1,206.5 295.6,210.2 296.1,214.1 296.6,217.9 297.1,221.7 297.6,225.4 298.1,228.8 298.6,232.0 299.1,234.9 299.6,237.4 300.1,239.6 300.6,241.4 301.1,243.0 301.6,244.3 302.1,245.3 302.6,246.1 303.1,246.7 303.6,247.2 304.1,247.6 304.6,247.9 305.1,248.1" fill="none" stroke="#000" stroke-width="0.95" stroke-linejoin="round"/>
<rect x="453.2" y="184.8" width="62.70" height="62.30" fill="none" stroke="#707070" stroke-width="1"/>
<line x1="453.70" y1="247.1" x2="453.70" y2="249.30" stroke="#555" stroke-width="0.7"/>
<text x="453.70" y="253.90" class="tk" text-anchor="middle">0</text>
<line x1="468.90" y1="247.1" x2="468.90" y2="249.30" stroke="#555" stroke-width="0.7"/>
<text x="468.90" y="253.90" class="tk" text-anchor="middle">1</text>
<line x1="484.10" y1="247.1" x2="484.10" y2="249.30" stroke="#555" stroke-width="0.7"/>
<text x="484.10" y="253.90" class="tk" text-anchor="middle">2</text>
<line x1="499.30" y1="247.1" x2="499.30" y2="249.30" stroke="#555" stroke-width="0.7"/>
<text x="499.30" y="253.90" class="tk" text-anchor="middle">3</text>
<line x1="514.50" y1="247.1" x2="514.50" y2="249.30" stroke="#555" stroke-width="0.7"/>
<text x="514.50" y="253.90" class="tk" text-anchor="middle">4</text>
<text x="452.40" y="188.20" class="tk2" text-anchor="end" textLength="7.2" lengthAdjust="spacingAndGlyphs">256</text>
<path d="M456.3,246.1 456.8,245.8 457.3,245.3 457.8,244.6 458.3,243.4 458.8,241.7 459.3,239.3 459.8,236.1 460.3,231.9 460.8,226.8 461.3,221.0 461.8,214.6 462.3,208.1 462.8,202.2 463.3,197.6 463.8,195.4 464.3,197.3 464.8,201.5 465.3,206.8 465.8,212.6 466.3,218.5 466.8,224.1 467.3,229.1 467.8,233.4 468.3,237.0 468.8,239.8 469.3,241.9 469.8,243.4 470.3,244.5 470.8,245.2 471.3,245.7 471.8,246.0" fill="none" stroke="#999" stroke-width="0.75" stroke-linejoin="round"/>
<path d="M463.3,246.1 463.8,246.0 464.3,245.9 464.8,245.7 465.3,245.5 465.8,245.2 466.3,244.9 466.8,244.5 467.3,244.0 467.8,243.5 468.3,242.9 468.8,242.1 469.3,241.3 469.8,240.4 470.3,239.3 470.8,238.2 471.3,236.9 471.8,235.6 472.3,234.2 472.8,232.7 473.3,231.2 473.8,229.7 474.3,228.2 474.8,226.7 475.3,225.2 475.8,223.8 476.3,222.5 476.8,221.3 477.3,220.3 477.8,219.7 478.3,220.2 478.8,221.2 479.3,222.3 479.8,223.5 480.3,224.7 480.8,226.0 481.3,227.4 481.8,228.8 482.3,230.1 482.8,231.5 483.3,232.9 483.8,234.3 484.3,235.6 484.8,236.8 485.3,237.9 485.8,239.0 486.3,240.0 486.8,240.9 487.3,241.7 487.8,242.4 488.3,243.1 488.8,243.6 489.3,244.1 489.8,244.5 490.3,244.9 490.8,245.2 491.3,245.4 491.8,245.6 492.3,245.8 492.8,246.0 493.3,246.1" fill="none" stroke="#444" stroke-width="0.75" stroke-linejoin="round"/>
<path d="M472.8,246.1 473.3,246.1 473.8,246.0 474.3,245.9 474.8,245.8 475.3,245.7 475.8,245.6 476.3,245.5 476.8,245.3 477.3,245.2 477.8,245.0 478.3,244.8 478.8,244.6 479.3,244.4 479.8,244.2 480.3,244.0 480.8,243.7 481.3,243.4 481.8,243.1 482.3,242.8 482.8,242.5 483.3,242.1 483.8,241.6 484.3,241.2 484.8,240.6 485.3,240.0 485.8,239.3 486.3,238.4 486.8,237.5 487.3,236.4 487.8,235.2 488.3,233.9 488.8,232.4 489.3,230.8 489.8,229.0 490.3,227.1 490.8,225.1 491.3,223.1 491.8,221.0 492.3,218.9 492.8,216.9 493.3,215.0 493.8,213.3 494.3,211.8 494.8,210.8 495.3,211.3 495.8,213.1 496.3,215.6 496.8,218.5 497.3,221.6 497.8,224.8 498.3,227.9 498.8,230.8 499.3,233.5 499.8,235.9 500.3,238.1 500.8,239.9 501.3,241.4 501.8,242.7 502.3,243.6 502.8,244.4 503.3,245.0 503.8,245.4 504.3,245.8 504.8,246.0" fill="none" stroke="#444" stroke-width="0.75" stroke-linejoin="round"/>
<text x="43.90" y="18.50" class="gr" textLength="4.00" lengthAdjust="spacingAndGlyphs">α</text>
<text x="49.50" y="18.50" class="sb">1</text>
<text x="54.15" y="18.40" class="tt" textLength="24.40" lengthAdjust="spacing">(CD49a)</text>
<text x="125.00" y="18.10" class="gr" textLength="3.70" lengthAdjust="spacingAndGlyphs">α</text>
<text x="129.50" y="18.10" class="sb">4</text>
<text x="136.85" y="18.00" class="tt" textLength="23.50" lengthAdjust="spacing">(CD49d)</text>
<text x="205.90" y="18.00" class="gr grb">β</text>
<text x="210.90" y="18.00" class="sb">1</text>
<text x="217.35" y="17.90" class="tt" textLength="20.90" lengthAdjust="spacing">(CD29)</text>
<text x="295.90" y="17.60" class="gr" textLength="3.80" lengthAdjust="spacingAndGlyphs">α</text>
<text x="301.80" y="17.60" class="sb">L</text>
<text x="306.95" y="17.50" class="tt" textLength="24.00" lengthAdjust="spacing">(CD11a)</text>
<text x="375.80" y="17.70" class="gr grb">β</text>
<text x="380.30" y="17.70" class="sb">2</text>
<text x="386.75" y="17.60" class="tt" textLength="20.90" lengthAdjust="spacing">(CD18)</text>
<text x="44.90" y="100.30" class="gr" textLength="3.10" lengthAdjust="spacingAndGlyphs">α</text>
<text x="48.30" y="100.30" class="sb">2</text>
<text x="55.55" y="100.20" class="tt" textLength="24.60" lengthAdjust="spacing">(CD49b)</text>
<text x="127.00" y="100.00" class="gr" textLength="3.30" lengthAdjust="spacingAndGlyphs">α</text>
<text x="131.10" y="100.00" class="sb">5</text>
<text x="138.75" y="99.90" class="tt" textLength="23.40" lengthAdjust="spacing">(CD49e)</text>
<text x="294.90" y="100.30" class="gr" textLength="3.40" lengthAdjust="spacingAndGlyphs">α</text>
<text x="299.90" y="100.30" class="sb">M</text>
<text x="308.85" y="100.20" class="tt" textLength="23.70" lengthAdjust="spacing">(CD11b)</text>
<text x="45.80" y="182.70" class="gr" textLength="3.30" lengthAdjust="spacingAndGlyphs">α</text>
<text x="51.50" y="182.70" class="sb">3</text>
<text x="58.45" y="182.60" class="tt" textLength="23.70" lengthAdjust="spacing">(CD49c)</text>
<text x="127.80" y="182.20" class="gr" textLength="3.30" lengthAdjust="spacingAndGlyphs">α</text>
<text x="131.50" y="182.20" class="sb">6</text>
<text x="138.75" y="182.10" class="tt" textLength="23.80" lengthAdjust="spacing">(CD49f)</text>
<text x="295.80" y="182.20" class="gr" textLength="3.30" lengthAdjust="spacingAndGlyphs">α</text>
<text x="301.50" y="182.20" class="sb">X</text>
<text x="308.85" y="182.10" class="tt" textLength="23.70" lengthAdjust="spacing">(CD11c)</text>
<text x="461.5" y="16.9" class="tt2" textLength="25.6" lengthAdjust="spacing">ICAM-1</text>
<text x="489.7" y="16.6" class="tt" textLength="21" lengthAdjust="spacing">(CD54)</text>
<text x="471.7" y="100.7" class="tt2 vc" textLength="28.6" lengthAdjust="spacing">VCAM-1</text>
<text x="471.6" y="181.6" class="tt2 vc" textLength="20.8" lengthAdjust="spacing">c-kit</text>
<circle cx="475.5" cy="222.6" r="0.75" fill="#333"/>
<circle cx="478.0" cy="220.6" r="0.75" fill="#333"/>
<circle cx="480.1" cy="223.3" r="0.75" fill="#333"/>
<circle cx="482.2" cy="227.4" r="0.75" fill="#333"/>
<circle cx="483.5" cy="230.0" r="0.75" fill="#333"/>
</svg>
</body></html>
